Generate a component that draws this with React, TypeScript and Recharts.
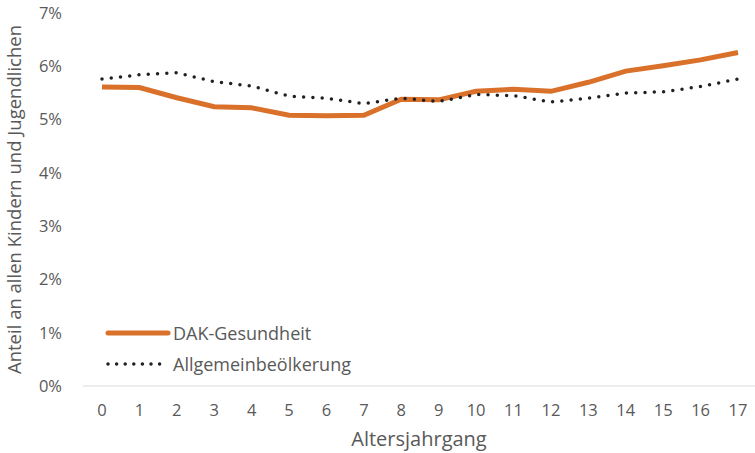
import { LineChart, Line, XAxis, YAxis, Label } from "recharts";

// Altersjahrgang 0..17
const ages = ["0", "1", "2", "3", "4", "5", "6", "7", "8", "9", "10", "11", "12", "13", "14", "15", "16", "17"];
// Anteil in Prozent
const dak = [5.61, 5.6, 5.41, 5.24, 5.22, 5.08, 5.07, 5.08, 5.38, 5.37, 5.53, 5.57, 5.53, 5.7, 5.91, 6.01, 6.12, 6.26];
const bevoelkerung = [5.76, 5.84, 5.88, 5.71, 5.63, 5.44, 5.4, 5.3, 5.4, 5.34, 5.47, 5.45, 5.33, 5.4, 5.5, 5.52, 5.62, 5.76];
const yTicks = [0, 1, 2, 3, 4, 5, 6, 7];
const seriesNames = ["DAK-Gesundheit", "Allgemeinbeölkerung"];

const data = ages.map((a, i) => ({ age: a, dak: dak[i], bev: bevoelkerung[i] }));

const FONT = "'Open Sans', sans-serif";
const GREY = "#595959";
const ORANGE = "#D9712B";
const DOTS = "#231F20";

// legend sits inside the plot area, bottom left
const LegendBox = () => (
    <div style={{ position: "absolute", left: 105, top: 317, fontFamily: FONT, fontSize: 18, color: GREY, lineHeight: 1 }}>
        <div style={{ display: "flex", alignItems: "center", height: 31 }}>
            <svg width={68} height={10}>
                <line x1={3} y1={5} x2={63} y2={5} stroke={ORANGE} strokeWidth={5} strokeLinecap="round" />
            </svg>
            <span>{seriesNames[0]}</span>
        </div>
        <div style={{ display: "flex", alignItems: "center", height: 31 }}>
            <svg width={68} height={10}>
                <line x1={3} y1={5} x2={63} y2={5} stroke={DOTS} strokeWidth={3.5} strokeLinecap="round" strokeDasharray="0 8.6" />
            </svg>
            <span>{seriesNames[1]}</span>
        </div>
    </div>
);

const App = () => {
    return (
        <div style={{ position: "absolute", left: 0, top: 0, width: 755, height: 453, background: "#fff" }}>
            <LineChart width={755} height={453} data={data} margin={{ top: 13, right: 0, bottom: 37, left: 0 }}>
                <XAxis
                    dataKey="age"
                    height={30}
                    padding={{ left: 19, right: 17 }}
                    tickLine={false}
                    tickSize={0}
                    tickMargin={18}
                    axisLine={{ stroke: "#D9D9D9", strokeWidth: 1 }}
                    tick={{ fill: GREY, fontSize: 16.5, fontFamily: FONT }}
                    interval={0}
                >
                    <Label value="Altersjahrgang" position="insideBottom" offset={-30} style={{ fill: GREY, fontSize: 20, fontFamily: FONT }} />
                </XAxis>
                <YAxis
                    width={83}
                    domain={[0, 7]}
                    ticks={yTicks}
                    tickFormatter={(v: number) => `${v}%`}
                    axisLine={false}
                    tickLine={false}
                    tickSize={0}
                    tickMargin={21}
                    tick={{ fill: GREY, fontSize: 16.5, fontFamily: FONT }}
                >
                    <Label
                        value="Anteil an allen Kindern und Jugendlichen"
                        angle={-90}
                        position="insideLeft"
                        offset={14}
                        style={{ textAnchor: "middle", fill: GREY, fontSize: 18.5, fontFamily: FONT }}
                    />
                </YAxis>
                <Line
                    type="linear"
                    dataKey="dak"
                    name={seriesNames[0]}
                    stroke={ORANGE}
                    strokeWidth={5}
                    dot={false}
                    isAnimationActive={false}
                />
                <Line
                    type="linear"
                    dataKey="bev"
                    name={seriesNames[1]}
                    stroke={DOTS}
                    strokeWidth={3.5}
                    strokeLinecap="round"
                    strokeDasharray="0 9.3"
                    dot={false}
                    isAnimationActive={false}
                />
            </LineChart>
            <LegendBox />
        </div>
    );
};

export default App;
